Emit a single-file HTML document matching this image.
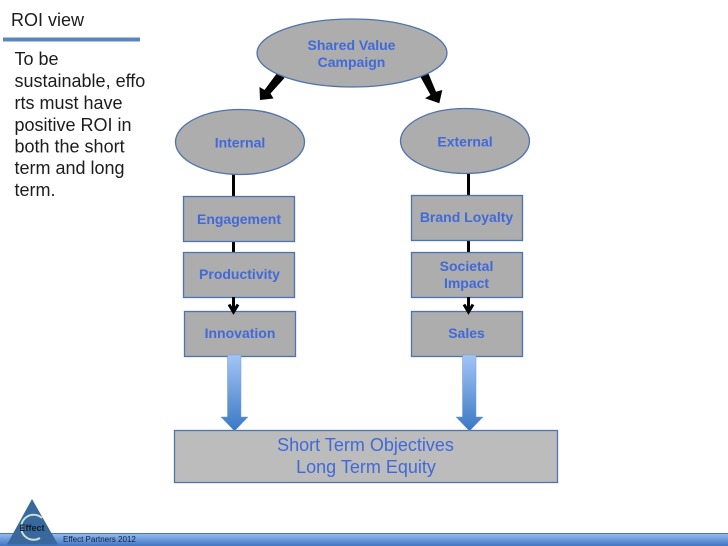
<!DOCTYPE html>
<html>
<head>
<meta charset="utf-8">
<style>
html,body{margin:0;padding:0;width:728px;height:546px;overflow:hidden;background:#fff}
svg{display:block}
text{font-family:"Liberation Sans",sans-serif}
.b{font-weight:bold;font-size:14px;fill:#4169d8;text-anchor:middle}
.s{fill:#adadad;stroke:#4f74ad;stroke-width:1.3}
.t{font-size:18px;fill:#1c1c1c}
</style>
</head>
<body>
<svg width="728" height="546" viewBox="0 0 728 546" xmlns="http://www.w3.org/2000/svg">
<defs>
<linearGradient id="ar" x1="0" y1="0" x2="0" y2="1">
<stop offset="0" stop-color="#a3c5f7"/>
<stop offset="1" stop-color="#3a78c4"/>
</linearGradient>
<linearGradient id="ft" x1="0" y1="0" x2="0" y2="1">
<stop offset="0" stop-color="#9abff5"/>
<stop offset="1" stop-color="#3f74c0"/>
</linearGradient>
</defs>

<text x="11" y="26" class="t">ROI view</text>
<rect x="3" y="37.500" width="137" height="4" fill="#5a86bd"/>
<g class="t">
<text x="14.500" y="65">To be</text>
<text x="14.500" y="87">sustainable, effo</text>
<text x="14.500" y="109">rts must have</text>
<text x="14.500" y="131">positive ROI in</text>
<text x="14.500" y="152.500">both the short</text>
<text x="14.500" y="174">term and long</text>
<text x="14.500" y="196">term.</text>
</g>

<rect x="232" y="173" width="3" height="24" fill="#000"/>
<rect x="467" y="172" width="3" height="24" fill="#000"/>
<rect x="232" y="241" width="3" height="12" fill="#000"/>
<rect x="467" y="240" width="3" height="13" fill="#000"/>

<polygon points="277.500,72.500 284.500,78 270.500,93.500 273.500,98.500 260,100 259.500,87 264.500,90" fill="#000"/>
<polygon points="420,76 428.300,73.300 436,91.700 442.300,90 439.300,103.300 425,98.300 430.500,95" fill="#000"/>

<ellipse cx="352" cy="53" rx="95" ry="34" class="s"/>
<ellipse cx="240" cy="142" rx="64.500" ry="32.500" class="s"/>
<ellipse cx="465" cy="141" rx="64.500" ry="32.500" class="s"/>

<rect x="183.500" y="196.500" width="111" height="45" class="s"/>
<rect x="183.500" y="252.500" width="111" height="45" class="s"/>
<rect x="184.500" y="311.500" width="111" height="45" class="s"/>
<rect x="411.500" y="195.500" width="111" height="45" class="s"/>
<rect x="411.500" y="252.500" width="111" height="45" class="s"/>
<rect x="411.500" y="311.500" width="111" height="45" class="s"/>

<rect x="232" y="297" width="3" height="14" fill="#000"/>
<rect x="467" y="297" width="3" height="14" fill="#000"/>
<path d="M229 304.500L233.500 312L238 304.500" fill="none" stroke="#000" stroke-width="3"/>
<path d="M464 304.500L468.500 312L473 304.500" fill="none" stroke="#000" stroke-width="3"/>

<text x="351.500" y="50" class="b">Shared Value</text>
<text x="351.500" y="67" class="b">Campaign</text>
<text x="240" y="147.500" class="b">Internal</text>
<text x="465" y="146.500" class="b">External</text>
<text x="239" y="224" class="b">Engagement</text>
<text x="239.500" y="279" class="b">Productivity</text>
<text x="240" y="338" class="b">Innovation</text>
<text x="466.500" y="222" class="b">Brand Loyalty</text>
<text x="466.500" y="271" class="b">Societal</text>
<text x="466.500" y="288" class="b">Impact</text>
<text x="466.500" y="338" class="b">Sales</text>

<rect x="174.500" y="430.500" width="383" height="52" stroke="#4f74ad" stroke-width="1.300" fill="#bcbcbc"/>
<polygon points="227.500,355 241,355 241,417 248,417 234.500,431 221,417 227.500,417" fill="url(#ar)" stroke="#6f9ad2" stroke-width="0.500"/>
<polygon points="462.500,355 476,355 476,417 483,417 469.500,431 456,417 462.500,417" fill="url(#ar)" stroke="#6f9ad2" stroke-width="0.500"/>
<text x="365.500" y="451" font-size="18" fill="#4169d8" text-anchor="middle">Short Term Objectives</text>
<text x="366" y="473" font-size="18" fill="#4169d8" text-anchor="middle">Long Term Equity</text>

<rect x="0" y="533" width="728" height="13" fill="url(#ft)"/>
<rect x="0" y="533" width="728" height="1" fill="#4a7aa8"/>
<polygon points="32,499 58,544.500 7,544.500" fill="#39689d"/>
<path d="M42 518A12.500 12.500 0 1 0 40 538" fill="none" stroke="#c8e0d8" stroke-width="2"/>
<text x="19.500" y="531" font-size="9" font-weight="bold" fill="#101c2c">Effect</text>
<text x="63" y="542" font-size="8" fill="#10233f">Effect Partners 2012</text>
</svg>
</body>
</html>
